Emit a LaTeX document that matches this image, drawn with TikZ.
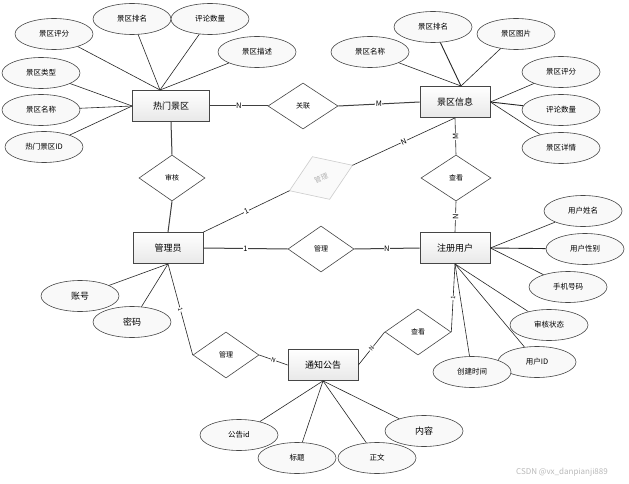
\documentclass[tikz,border=0pt]{standalone}
\usepackage{fontspec}
\usepackage{graphicx}
\newfontfamily\cjk{Noto Sans CJK SC}
\usetikzlibrary{shapes.geometric,calc}
\tikzset{
  entity/.style={rectangle, draw=gray!55!black, line width=0.8pt, top color=white, bottom color=gray!18,
    minimum width=70pt, minimum height=31pt, inner sep=1pt, font=\cjk\fontsize{9}{10}\selectfont},
  attr/.style={ellipse, draw=gray!55!black, line width=0.6pt, fill=gray!5, minimum width=78pt,
    minimum height=31pt, inner sep=0pt, font=\cjk\fontsize{7.5}{8}\selectfont},
  rel/.style={diamond, draw=gray!55!black, line width=0.6pt, fill=white, minimum width=66pt,
    minimum height=46pt, inner sep=0pt, font=\cjk\fontsize{7}{8}\selectfont},
  gshape/.style={draw=gray!40, line width=0.6pt, fill=gray!4},
  gtext/.style={text=gray!60, inner sep=0pt, font=\cjk\fontsize{7}{8}\selectfont},
  conn/.style={draw=gray!30!black, line width=0.6pt},
  rconn/.style={draw=gray!50!black, line width=1pt},
  card/.style={fill=white, inner sep=0.5pt, font=\cjk\fontsize{7.5}{8}\selectfont},
}
\begin{document}
\begin{tikzpicture}[x=1pt,y=-1pt]
\useasboundingbox (0,0) rectangle (629,484);
\fill[white] (0,0) rectangle (629,484);

% entities
\node[entity, minimum width=77pt] (hot) at (171,106) {热门景区};
\node[entity] (info) at (455,102) {景区信息};
\node[entity] (admin) at (168,248) {管理员};
\node[entity] (user) at (455,248) {注册用户};
\node[entity] (notice) at (323,365) {通知公告};

% relations
\node[rel, minimum width=70pt] (guanlian) at (303,106) {关联};
\node[rel] (shenhe) at (172,178) {审核};
\node[rel, minimum width=70pt] (chakan1) at (456,178) {查看};
\node[rel] (guanli1) at (321,249) {管理};
\node[rel] (guanli2) at (226,355) {管理};
\node[rel] (chakan2) at (418,332) {查看};

% grey tilted relation
\coordinate (glL) at (289.5,190.7);
\coordinate (glT) at (312.4,156.7);
\coordinate (glR) at (352.5,165.3);
\coordinate (glB) at (329.6,199.3);
\draw[gshape] (glL) -- (glT) -- (glR) -- (glB) -- cycle;
\node[gtext] (gl) at (321,178) {\rotatebox{22}{管理}};

% attributes of hot
\node[attr] (h1) at (54,34) {景区评分};
\node[attr] (h2) at (132,19) {景区排名};
\node[attr] (h3) at (210,19) {评论数量};
\node[attr] (h4) at (257,52) {景区描述};
\node[attr] (h5) at (41,73) {景区类型};
\node[attr] (h6) at (41,110) {景区名称};
\node[attr] (h7) at (44,147) {热门景区ID};
\coordinate (hotTop) at (160,90);
\foreach \a in {h1,h2,h3,h4} \draw[conn] (\a) -- (hotTop);
\foreach \a in {h5,h6,h7} \draw[conn] (\a) -- (hot.west);

% attributes of info
\node[attr] (i1) at (433,27) {景区排名};
\node[attr] (i2) at (516,34) {景区图片};
\node[attr] (i3) at (370,52) {景区名称};
\node[attr] (i4) at (561,72) {景区评分};
\node[attr] (i5) at (561,110) {评论数量};
\node[attr] (i6) at (561,148) {景区详情};
\coordinate (infoTop) at (461,86);
\draw[conn, line width=0.9pt] (i1) -- (infoTop);
\draw[conn] (i2) -- (infoTop);
\draw[conn] (i3) -- (infoTop);
\draw[conn] (i4) -- (info.east);
\draw[conn, line width=0.9pt] (i5) -- (info.east);
\draw[conn] (i6) -- (info.east);

% attributes of admin
\node[attr] (a1) at (80,296) {\fontsize{9}{10}\selectfont 账号};
\node[attr] (a2) at (132,322) {\fontsize{9}{10}\selectfont 密码};
\draw[conn] (a1) -- (admin.south);
\draw[conn] (a2) -- (admin.south);

% attributes of user
\node[attr] (u1) at (583,211) {用户姓名};
\node[attr] (u2) at (585,249) {用户性别};
\node[attr] (u3) at (568,287) {手机号码};
\node[attr] (u4) at (549,325) {审核状态};
\node[attr] (u5) at (537,362) {用户ID};
\node[attr] (u6) at (472,372) {创建时间};
\draw[conn] (u1) -- (user.east);
\draw[conn, line width=0.9pt] (u2) -- (user.east);
\draw[conn] (u3) -- (user.east);
\draw[conn] (u4) -- (user.south);
\draw[conn] (u5) -- (user.south);
\draw[conn] (u6) -- (user.south);

% attributes of notice
\node[attr] (n1) at (239,435) {公告id};
\node[attr] (n2) at (297,458) {标题};
\node[attr] (n3) at (377,458) {正文};
\node[attr, font=\cjk\fontsize{9}{10}\selectfont] (n4) at (424,431) {内容};
\foreach \a in {n1,n2,n3,n4} \draw[conn] (\a) -- (notice.south);

% relationship connectors
\draw[rconn] (hot.east) -- node[card] {N} (guanlian.west);
\draw[rconn] (guanlian.east) -- node[card] {M} (info.west);
\draw[rconn] (hot.south) -- (shenhe.north);
\draw[rconn] (shenhe.south) -- (admin.north);
\draw[conn] (admin.north east) -- node[card, sloped] {1} (glL);
\draw[conn] (glR) -- node[card, sloped] {N} (info.south);
\draw[conn] (chakan1.north) -- node[card, rotate=90] {M} (info.south);
\draw[conn] (chakan1.south) -- node[card, rotate=90] {N} (user.north);
\draw[rconn] (admin.east) -- node[card] {1} (guanli1.west);
\draw[rconn] (guanli1.east) -- node[card] {N} (user.west);
\draw[conn] (admin.south) -- node[card, sloped, font=\cjk\fontsize{6}{7}\selectfont] {1} (guanli2.west);
\draw[conn] (guanli2.east) -- node[card, sloped, font=\cjk\fontsize{6}{7}\selectfont] {N} (notice.west);
\draw[conn] (notice.east) -- node[card, sloped, font=\cjk\fontsize{6}{7}\selectfont] {N} (chakan2.west);
\draw[conn] (chakan2.east) -- node[card, sloped, font=\cjk\fontsize{6}{7}\selectfont] {1} (user.south);

% watermark
\node[font=\cjk\fontsize{8}{9}\selectfont, text=gray!55] (wm) at (562,472) {CSDN @vx\_danpianji889};
\end{tikzpicture}
\end{document}
